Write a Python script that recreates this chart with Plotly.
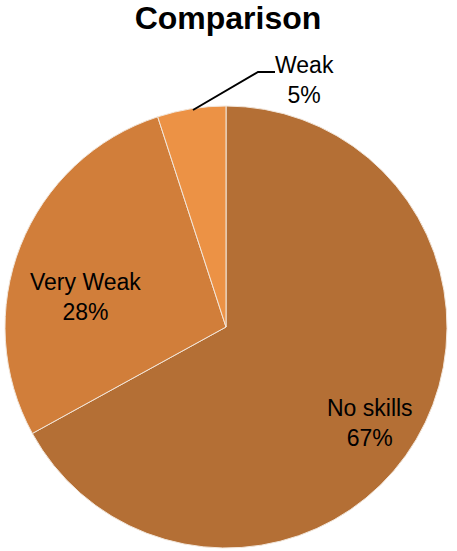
import plotly.graph_objects as go

labels = ["No skills", "Very Weak", "Weak"]
values = [67, 28, 5]
colors = ["#B46F35", "#D17E3A", "#EC9245"]
title = "Comparison"

W, H = 457, 551
cx, cy, r = 226, 327, 221

fig = go.Figure(go.Pie(
    labels=labels, values=values, sort=False, direction="clockwise", rotation=0,
    marker=dict(colors=colors, line=dict(color="#F2E6DA", width=1)),
    textinfo="none", hoverinfo="label+percent", showlegend=False,
    domain=dict(x=[(cx - r) / W, (cx + r) / W], y=[1 - (cy + r) / H, 1 - (cy - r) / H]),
))

total = sum(values)
pct = [f"{round(v / total * 100)}%" for v in values]
label_pos = [(370, 423), (85, 297), (304, 80)]
font = dict(family="Liberation Sans", size=23, color="#000000")
annotations = []
for lab, p, (x, y) in zip(labels, pct, label_pos):
    annotations.append(dict(x=x / W, y=1 - y / H, xref="paper", yref="paper",
                            text=f"{lab}<br>{p}", showarrow=False, font=font,
                            xanchor="center", yanchor="middle", align="center"))

shapes = [dict(type="path", xref="paper", yref="paper",
               path=f"M {193/W},{1-110/H} L {258/W},{1-72/H} L {275/W},{1-72/H}",
               line=dict(color="#000000", width=2))]

fig.update_layout(
    width=W, height=H, margin=dict(l=0, r=0, t=0, b=0),
    paper_bgcolor="white", plot_bgcolor="white",
    title=dict(text=f"<b>{title}</b>", x=228 / W, xanchor="center", y=1 - 18 / H, yanchor="middle",
               font=dict(family="Liberation Sans", size=32, color="#000000")),
    annotations=annotations, shapes=shapes,
)
fig.write_html("out.html", config={"displayModeBar": False},
               post_script="document.body.style.margin='0';document.body.style.overflow='hidden';")
